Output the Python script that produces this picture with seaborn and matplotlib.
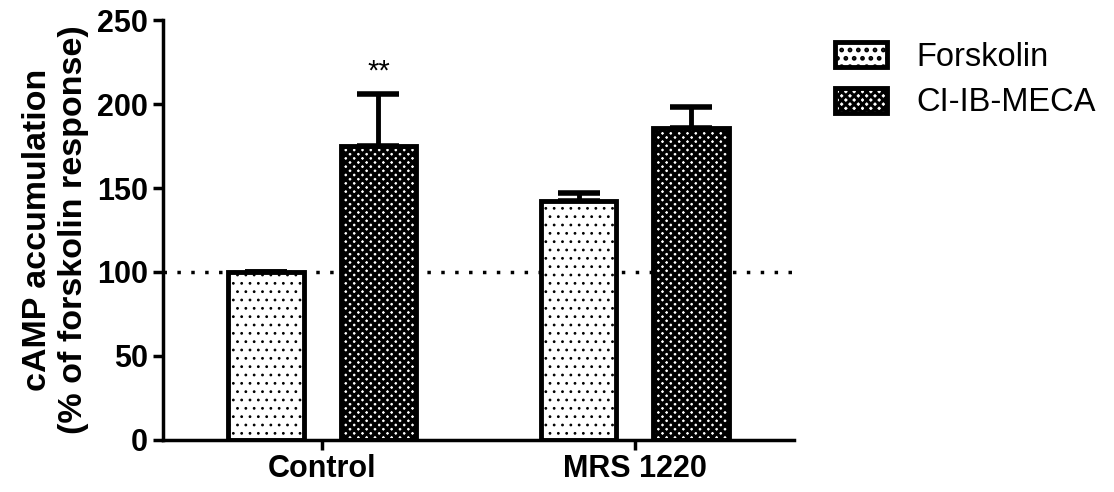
import numpy as np
import pandas as pd
import matplotlib
matplotlib.use("Agg")
import matplotlib.pyplot as plt
import seaborn as sns

# data
groups = ["Control", "MRS 1220"]
treatments = ["Forskolin", "CI-IB-MECA"]
forskolin_mean = [100, 142]
forskolin_sem = [0, 5]
meca_mean = [175, 186]
meca_sem = [31, 12]
yticks = [0, 50, 100, 150, 200, 250]

df = pd.DataFrame({
    "group": groups * 2,
    "treatment": [treatments[0]] * 2 + [treatments[1]] * 2,
    "value": forskolin_mean + meca_mean,
})
errs = {treatments[0]: forskolin_sem, treatments[1]: meca_sem}

sns.set_theme(style="ticks")
plt.rcParams['font.family'] = ['Liberation Sans', 'DejaVu Sans']
plt.rcParams['text.color'] = 'black'
plt.rcParams['axes.labelcolor'] = 'black'
plt.rcParams['xtick.color'] = 'black'
plt.rcParams['ytick.color'] = 'black'
plt.rcParams['axes.edgecolor'] = 'black'
plt.rcParams['hatch.linewidth'] = 2.2
plt.rcParams['hatch.color'] = 'black'

fig = plt.figure(figsize=(11.14, 4.92), dpi=100)
ax = fig.add_axes([0.146, 0.106, 0.567, 0.853])

sns.barplot(data=df, x="group", y="value", hue="treatment", ax=ax,
            width=0.72, gap=0.33, palette=["white", "white"],
            edgecolor="black", linewidth=3.5, errorbar=None, legend=True)

hatches = ["..", "xxxx"]
hatch_lw = [0.8, 2.5]
for cont, h, lw, t in zip(ax.containers, hatches, hatch_lw, treatments):
    for bar in cont:
        bar.set_hatch(h)
        if hasattr(bar, "set_hatch_linewidth"):
            bar.set_hatch_linewidth(lw)
    xs = [b.get_x() + b.get_width() / 2 for b in cont]
    ys = [b.get_height() for b in cont]
    ax.errorbar(xs, ys, yerr=[np.zeros(len(ys)), errs[t]], fmt="none",
                ecolor="black", elinewidth=3.5, capsize=15, capthick=4, zorder=0)

# significance mark over control CI-IB-MECA
b = ax.containers[1][0]
ax.text(b.get_x() + b.get_width() / 2, meca_mean[0] + meca_sem[0] + 5, "**",
        ha="center", va="bottom", fontsize=21)

ax.axhline(100, color="black", linestyle=(0, (1, 3)), linewidth=2.5, zorder=0)

ax.set_xlim(-0.51, 1.51)
ax.set_ylim(0, 250)
ax.set_yticks(yticks)
ax.set_xlabel("")
ax.set_ylabel("cAMP accumulation\n(% of forskolin response)", fontsize=24.5,
              fontweight="bold", labelpad=6)
ax.tick_params(axis="both", labelsize=22, width=2.5, length=7)
for lab in ax.get_xticklabels() + ax.get_yticklabels():
    lab.set_fontweight("bold")
sns.despine(ax=ax)
for s in ["left", "bottom"]:
    ax.spines[s].set_linewidth(2.5)

handles, labels = ax.get_legend_handles_labels()
ax.legend_.remove()
for hnd, h, lw in zip(handles, hatches, hatch_lw):
    hnd.set_hatch(h)
    if hasattr(hnd, "set_hatch_linewidth"):
        hnd.set_hatch_linewidth(lw)
fig.legend(handles, labels, loc="upper left", bbox_to_anchor=(0.723, 0.975),
           frameon=False, fontsize=23.5, handlelength=1.6, handleheight=0.8,
           labelspacing=0.45, handletextpad=0.9)

fig.savefig("out.png", dpi=100)
